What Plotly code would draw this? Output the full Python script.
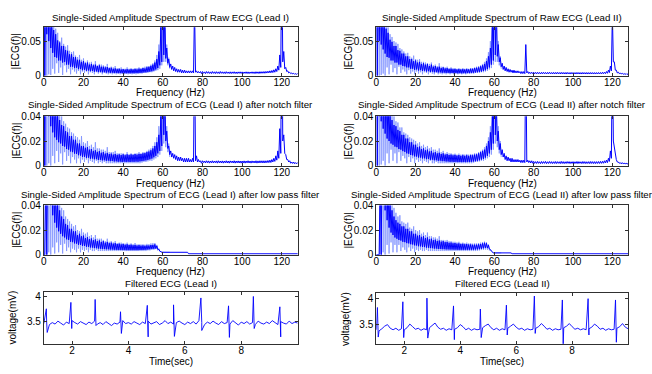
import plotly.graph_objects as go

# ---------------- data ----------------
freq = list(range(0, 129))  # 1 Hz bins, 0..128 Hz

# Dense FFT band per 1 Hz bin: upper edge (hi) / lower edge (lo), 0..128 Hz.
# Sparse noise extremes (up / dn) for 0..63 Hz, drawn lighter underneath.
raw1_hi = [
    0.150, 0.140, 0.120, 0.100, 0.082, 0.066, 0.060, 0.051, 0.048, 0.043,
    0.043, 0.037, 0.036, 0.031, 0.031, 0.027, 0.027, 0.023, 0.023, 0.020,
    0.021, 0.018, 0.019, 0.016, 0.017, 0.015, 0.016, 0.014, 0.015, 0.013,
    0.013, 0.012, 0.0125, 0.011, 0.0115, 0.010, 0.0105, 0.0095, 0.010, 0.009,
    0.0095, 0.0088, 0.0095, 0.0088, 0.0095, 0.009, 0.0098, 0.0092, 0.0102, 0.0098,
    0.011, 0.0105, 0.0122, 0.0128, 0.0142, 0.016, 0.019, 0.024, 0.035, 0.070,
    0.200, 0.090, 0.040, 0.024,
    0.017, 0.014, 0.012, 0.010, 0.009, 0.009,
    0.008, 0.008, 0.007, 0.007, 0.007, 0.007, 0.100, 0.007, 0.006, 0.006,
    0.0060, 0.0055, 0.0060, 0.0058, 0.0055, 0.0060, 0.0056, 0.0058, 0.0055, 0.0060,
    0.0056, 0.0055, 0.0058, 0.0054, 0.0056, 0.0055, 0.0057, 0.0054, 0.0055, 0.0056,
    0.0055, 0.0054, 0.0056, 0.0055, 0.0054, 0.0056, 0.0055, 0.0057, 0.0056, 0.0058,
    0.0058, 0.0060, 0.0062, 0.0065, 0.0070, 0.0075, 0.0085, 0.010, 0.014, 0.030,
    0.200, 0.035, 0.012, 0.007, 0.005, 0.004, 0.0035, 0.003, 0.003,
]
raw1_lo = [
    0.000, 0.060, 0.050, 0.040, 0.033, 0.027, 0.026, 0.022, 0.022, 0.019,
    0.020, 0.016, 0.016, 0.013, 0.013, 0.011, 0.0115, 0.0095, 0.0095, 0.008,
    0.0085, 0.0072, 0.0075, 0.0065, 0.0068, 0.0058, 0.0062, 0.0052, 0.0055, 0.0048,
    0.005, 0.0044, 0.0047, 0.0041, 0.0043, 0.0038, 0.004, 0.0036, 0.0038, 0.0034,
    0.0036, 0.0033, 0.0036, 0.0033, 0.0036, 0.0034, 0.0038, 0.0036, 0.004, 0.0042,
    0.0046, 0.0048, 0.0054, 0.0058, 0.0064, 0.0074, 0.009, 0.011, 0.015, 0.020,
    0.030, 0.025, 0.018, 0.012,
    0.009, 0.007, 0.006, 0.005, 0.005, 0.004,
    0.004, 0.004, 0.004, 0.004, 0.004, 0.004, 0.005, 0.004, 0.004, 0.003,
    0.0035, 0.0030, 0.0035, 0.0032, 0.0030, 0.0034, 0.0030, 0.0033, 0.0030, 0.0034,
    0.0032, 0.0030, 0.0034, 0.0031, 0.0030, 0.0033, 0.0031, 0.0030, 0.0034, 0.0032,
    0.0030, 0.0033, 0.0031, 0.0030, 0.0034, 0.0032, 0.0030, 0.0033, 0.0031, 0.0034,
    0.0035, 0.0035, 0.0038, 0.0040, 0.0042, 0.0045, 0.0050, 0.006, 0.008, 0.012,
    0.020, 0.010, 0.006, 0.004, 0.003, 0.0025, 0.002, 0.002, 0.0015,
]
raw1_up = [
    0.150, 0.150, 0.150, 0.120, 0.100, 0.080, 0.068, 0.062, 0.050, 0.055,
    0.046, 0.042, 0.044, 0.036, 0.034, 0.035, 0.029, 0.027, 0.030, 0.023,
    0.025, 0.020, 0.022, 0.019, 0.020, 0.017, 0.021, 0.015, 0.017, 0.016,
    0.015, 0.014, 0.017, 0.012, 0.013, 0.012, 0.014, 0.011, 0.011, 0.012,
    0.010, 0.010, 0.012, 0.010, 0.011, 0.010, 0.011, 0.011, 0.012, 0.011,
    0.012, 0.013, 0.014, 0.014, 0.016, 0.018, 0.022, 0.030, 0.045, 0.080,
    0.200, 0.100, 0.045, 0.026,
]
raw1_dn = [
    0.000, 0.000, 0.002, 0.001, 0.010, 0.003, 0.018, 0.004, 0.012, 0.001,
    0.015, 0.005, 0.010, 0.002, 0.009, 0.006, 0.003, 0.007, 0.002, 0.006,
    0.004, 0.006, 0.002, 0.005, 0.004, 0.002, 0.005, 0.003, 0.004, 0.002,
    0.004, 0.003, 0.002, 0.003, 0.002, 0.003, 0.002, 0.003, 0.002, 0.003,
    0.002, 0.003, 0.002, 0.003, 0.002, 0.003, 0.002, 0.003, 0.003, 0.003,
    0.004, 0.004, 0.004, 0.005, 0.005, 0.006, 0.007, 0.008, 0.010, 0.015,
    0.020, 0.020, 0.015, 0.010,
]

raw2_hi = [
    0.150, 0.140, 0.120, 0.100, 0.085, 0.068, 0.062, 0.052, 0.049, 0.043,
    0.043, 0.037, 0.036, 0.032, 0.032, 0.028, 0.028, 0.024, 0.024, 0.021,
    0.022, 0.019, 0.020, 0.017, 0.018, 0.016, 0.017, 0.014, 0.016, 0.013,
    0.014, 0.012, 0.013, 0.011, 0.012, 0.0105, 0.011, 0.0098, 0.0102, 0.0094,
    0.0098, 0.009, 0.0096, 0.009, 0.0095, 0.009, 0.0096, 0.0092, 0.010, 0.010,
    0.011, 0.0115, 0.012, 0.0135, 0.015, 0.017, 0.021, 0.028, 0.040, 0.080,
    0.200, 0.100, 0.045, 0.026,
    0.018, 0.014, 0.012, 0.010, 0.009, 0.008,
    0.008, 0.007, 0.007, 0.006, 0.006, 0.006, 0.045, 0.006, 0.005, 0.005,
    0.0050, 0.0048, 0.0050, 0.0047, 0.0049, 0.0050, 0.0047, 0.0048, 0.0050, 0.0046,
    0.0048, 0.0047, 0.0049, 0.0046, 0.0048, 0.0047, 0.0046, 0.0048, 0.0045, 0.0047,
    0.0046, 0.0045, 0.0047, 0.0046, 0.0045, 0.0047, 0.0045, 0.0046, 0.0045, 0.0046,
    0.0045, 0.0045, 0.0045, 0.0046, 0.0046, 0.0050, 0.0050, 0.006, 0.008, 0.014,
    0.090, 0.020, 0.008, 0.005, 0.004, 0.0035, 0.003, 0.003, 0.003,
]
raw2_lo = [
    0.000, 0.050, 0.045, 0.038, 0.032, 0.027, 0.026, 0.022, 0.022, 0.019,
    0.019, 0.016, 0.016, 0.014, 0.0135, 0.012, 0.012, 0.010, 0.010, 0.0085,
    0.009, 0.0075, 0.008, 0.0068, 0.0072, 0.006, 0.0065, 0.0054, 0.0058, 0.005,
    0.0052, 0.0046, 0.0048, 0.0042, 0.0044, 0.004, 0.0041, 0.0037, 0.0039, 0.0035,
    0.0037, 0.0034, 0.0036, 0.0034, 0.0036, 0.0035, 0.0038, 0.0037, 0.004, 0.0042,
    0.0046, 0.005, 0.0054, 0.006, 0.0068, 0.0078, 0.0095, 0.012, 0.016, 0.022,
    0.030, 0.028, 0.020, 0.013,
    0.009, 0.007, 0.006, 0.005, 0.005, 0.004,
    0.004, 0.004, 0.004, 0.003, 0.003, 0.003, 0.004, 0.003, 0.003, 0.003,
    0.0028, 0.0026, 0.0028, 0.0025, 0.0027, 0.0028, 0.0025, 0.0026, 0.0028, 0.0025,
    0.0026, 0.0025, 0.0027, 0.0025, 0.0026, 0.0025, 0.0024, 0.0026, 0.0024, 0.0025,
    0.0025, 0.0024, 0.0025, 0.0024, 0.0024, 0.0025, 0.0024, 0.0024, 0.0024, 0.0025,
    0.0024, 0.0024, 0.0025, 0.0025, 0.0026, 0.0028, 0.0030, 0.0035, 0.0045, 0.007,
    0.020, 0.008, 0.004, 0.003, 0.0025, 0.002, 0.0018, 0.0016, 0.0015,
]
raw2_up = [
    0.150, 0.150, 0.150, 0.120, 0.100, 0.085, 0.070, 0.060, 0.056, 0.050,
    0.048, 0.046, 0.040, 0.038, 0.035, 0.032, 0.033, 0.028, 0.026, 0.029,
    0.024, 0.023, 0.024, 0.020, 0.020, 0.019, 0.018, 0.017, 0.019, 0.015,
    0.016, 0.014, 0.018, 0.013, 0.013, 0.012, 0.013, 0.011, 0.012, 0.011,
    0.011, 0.010, 0.011, 0.010, 0.011, 0.010, 0.011, 0.010, 0.011, 0.011,
    0.012, 0.013, 0.014, 0.015, 0.017, 0.020, 0.025, 0.034, 0.050, 0.090,
    0.200, 0.110, 0.050, 0.028,
]
raw2_dn = [
    0.000, 0.000, 0.001, 0.003, 0.000, 0.012, 0.002, 0.016, 0.005, 0.011,
    0.002, 0.013, 0.004, 0.009, 0.006, 0.002, 0.008, 0.003, 0.006, 0.002,
    0.006, 0.003, 0.005, 0.002, 0.005, 0.004, 0.002, 0.004, 0.003, 0.002,
    0.004, 0.002, 0.003, 0.002, 0.003, 0.002, 0.003, 0.002, 0.003, 0.002,
    0.003, 0.002, 0.003, 0.002, 0.003, 0.002, 0.003, 0.003, 0.003, 0.003,
    0.004, 0.004, 0.004, 0.005, 0.005, 0.006, 0.007, 0.009, 0.011, 0.016,
    0.020, 0.020, 0.015, 0.010,
]

notch1_hi = [
    0.120, 0.110, 0.100, 0.090, 0.075, 0.060, 0.050, 0.042, 0.037, 0.033,
    0.032, 0.028, 0.027, 0.024, 0.024, 0.021, 0.021, 0.018, 0.018, 0.016,
    0.016, 0.0145, 0.015, 0.013, 0.0135, 0.012, 0.0125, 0.0112, 0.0118, 0.0105,
    0.011, 0.0098, 0.0104, 0.0094, 0.0098, 0.009, 0.0095, 0.0088, 0.0092, 0.0086,
    0.0092, 0.0085, 0.0092, 0.0086, 0.0092, 0.0088, 0.0094, 0.009, 0.0096, 0.0095,
    0.010, 0.0102, 0.011, 0.0115, 0.0125, 0.014, 0.016, 0.019, 0.025, 0.040,
    0.150, 0.060, 0.028, 0.016,
    0.012, 0.010, 0.009, 0.008, 0.007, 0.007,
    0.006, 0.006, 0.006, 0.006, 0.005, 0.006, 0.100, 0.008, 0.005, 0.004,
    0.0040, 0.0038, 0.0040, 0.0039, 0.0038, 0.0040, 0.0038, 0.0039, 0.0040, 0.0038,
    0.0039, 0.0038, 0.0040, 0.0038, 0.0039, 0.0038, 0.0040, 0.0038, 0.0039, 0.0038,
    0.0038, 0.0039, 0.0038, 0.0040, 0.0038, 0.0039, 0.0038, 0.0040, 0.0039, 0.0040,
    0.0040, 0.0040, 0.0040, 0.0042, 0.0045, 0.0050, 0.006, 0.008, 0.012, 0.030,
    0.150, 0.025, 0.009, 0.005, 0.004, 0.003, 0.003, 0.0025, 0.0025,
]
notch1_lo = [
    0.000, 0.045, 0.040, 0.032, 0.027, 0.023, 0.021, 0.019, 0.018, 0.016,
    0.0155, 0.0135, 0.013, 0.0115, 0.011, 0.0098, 0.0095, 0.0085, 0.0082, 0.0072,
    0.0072, 0.0064, 0.0065, 0.0057, 0.0058, 0.0052, 0.0053, 0.0047, 0.0048, 0.0043,
    0.0044, 0.004, 0.0041, 0.0037, 0.0038, 0.0034, 0.0035, 0.0032, 0.0033, 0.003,
    0.0032, 0.003, 0.0032, 0.003, 0.0032, 0.0031, 0.0033, 0.0032, 0.0035, 0.0037,
    0.004, 0.0043, 0.0047, 0.0052, 0.0058, 0.0068, 0.008, 0.010, 0.012, 0.016,
    0.025, 0.020, 0.014, 0.009,
    0.007, 0.006, 0.005, 0.004, 0.004, 0.004,
    0.003, 0.003, 0.003, 0.003, 0.003, 0.003, 0.004, 0.003, 0.003, 0.002,
    0.0025, 0.0022, 0.0024, 0.0021, 0.0023, 0.0022, 0.0024, 0.0021, 0.0023, 0.0022,
    0.0021, 0.0023, 0.0022, 0.0021, 0.0024, 0.0022, 0.0021, 0.0023, 0.0022, 0.0021,
    0.0022, 0.0021, 0.0023, 0.0022, 0.0021, 0.0023, 0.0022, 0.0021, 0.0022, 0.0023,
    0.0022, 0.0022, 0.0024, 0.0025, 0.0026, 0.0030, 0.0035, 0.0045, 0.006, 0.010,
    0.020, 0.010, 0.005, 0.003, 0.002, 0.0018, 0.0016, 0.0015, 0.0015,
]
notch1_up = [
    0.120, 0.120, 0.110, 0.100, 0.090, 0.070, 0.058, 0.050, 0.044, 0.040,
    0.036, 0.034, 0.031, 0.030, 0.027, 0.026, 0.024, 0.023, 0.021, 0.024,
    0.019, 0.018, 0.020, 0.016, 0.017, 0.015, 0.019, 0.014, 0.014, 0.013,
    0.013, 0.012, 0.015, 0.011, 0.011, 0.011, 0.012, 0.010, 0.010, 0.010,
    0.010, 0.0095, 0.011, 0.0095, 0.010, 0.0095, 0.010, 0.010, 0.011, 0.010,
    0.011, 0.011, 0.012, 0.013, 0.014, 0.016, 0.019, 0.023, 0.032, 0.045,
    0.150, 0.070, 0.032, 0.018,
]
notch1_dn = [
    0.000, 0.000, 0.002, 0.000, 0.008, 0.002, 0.012, 0.003, 0.010, 0.001,
    0.011, 0.004, 0.008, 0.002, 0.007, 0.005, 0.002, 0.006, 0.002, 0.005,
    0.003, 0.005, 0.002, 0.004, 0.003, 0.002, 0.004, 0.002, 0.003, 0.002,
    0.003, 0.002, 0.002, 0.002, 0.002, 0.002, 0.002, 0.002, 0.002, 0.002,
    0.002, 0.002, 0.002, 0.002, 0.002, 0.002, 0.002, 0.002, 0.002, 0.0025,
    0.003, 0.003, 0.0035, 0.004, 0.004, 0.005, 0.006, 0.007, 0.009, 0.012,
    0.018, 0.015, 0.011, 0.007,
]

notch2_hi = [
    0.120, 0.110, 0.100, 0.090, 0.080, 0.065, 0.052, 0.043, 0.037, 0.033,
    0.032, 0.029, 0.028, 0.025, 0.025, 0.022, 0.022, 0.019, 0.019, 0.017,
    0.017, 0.015, 0.0155, 0.0135, 0.014, 0.0125, 0.013, 0.0115, 0.012, 0.0105,
    0.011, 0.010, 0.0105, 0.0095, 0.010, 0.009, 0.0094, 0.0087, 0.009, 0.0084,
    0.0088, 0.0082, 0.0086, 0.008, 0.0085, 0.008, 0.0085, 0.008, 0.0086, 0.0085,
    0.009, 0.0092, 0.010, 0.011, 0.012, 0.013, 0.016, 0.020, 0.027, 0.040,
    0.150, 0.050, 0.028, 0.018,
    0.013, 0.010, 0.008, 0.007, 0.006, 0.006,
    0.005, 0.005, 0.005, 0.0045, 0.0045, 0.0045, 0.100, 0.0045, 0.004, 0.004,
    0.0035, 0.0033, 0.0035, 0.0032, 0.0034, 0.0033, 0.0035, 0.0032, 0.0034, 0.0033,
    0.0032, 0.0034, 0.0033, 0.0032, 0.0035, 0.0033, 0.0032, 0.0034, 0.0033, 0.0032,
    0.0033, 0.0032, 0.0034, 0.0033, 0.0032, 0.0034, 0.0033, 0.0032, 0.0033, 0.0034,
    0.0033, 0.0033, 0.0033, 0.0034, 0.0035, 0.0036, 0.0040, 0.0045, 0.006, 0.012,
    0.100, 0.015, 0.005, 0.003, 0.0025, 0.0025, 0.0022, 0.002, 0.002,
]
notch2_lo = [
    0.000, 0.040, 0.036, 0.030, 0.026, 0.022, 0.020, 0.018, 0.017, 0.0155,
    0.015, 0.0135, 0.013, 0.0118, 0.0112, 0.010, 0.0097, 0.0087, 0.0084, 0.0075,
    0.0074, 0.0066, 0.0066, 0.0059, 0.006, 0.0053, 0.0054, 0.0048, 0.0049, 0.0044,
    0.0044, 0.004, 0.0041, 0.0037, 0.0037, 0.0034, 0.0034, 0.0031, 0.0032, 0.003,
    0.0031, 0.0029, 0.003, 0.0029, 0.003, 0.0029, 0.0031, 0.003, 0.0032, 0.0034,
    0.0036, 0.004, 0.0044, 0.005, 0.0056, 0.0066, 0.008, 0.010, 0.013, 0.018,
    0.025, 0.020, 0.013, 0.009,
    0.007, 0.005, 0.004, 0.004, 0.003, 0.003,
    0.003, 0.003, 0.003, 0.0025, 0.0025, 0.0025, 0.003, 0.0025, 0.0022, 0.002,
    0.0019, 0.0018, 0.0019, 0.0017, 0.0018, 0.0019, 0.0017, 0.0018, 0.0019, 0.0017,
    0.0018, 0.0017, 0.0019, 0.0017, 0.0018, 0.0017, 0.0018, 0.0019, 0.0017, 0.0018,
    0.0017, 0.0018, 0.0017, 0.0019, 0.0017, 0.0018, 0.0017, 0.0018, 0.0017, 0.0018,
    0.0017, 0.0017, 0.0018, 0.0018, 0.0019, 0.0020, 0.0022, 0.0025, 0.0035, 0.006,
    0.020, 0.007, 0.003, 0.002, 0.0015, 0.0015, 0.0014, 0.0013, 0.0013,
]
notch2_up = [
    0.120, 0.120, 0.110, 0.100, 0.090, 0.075, 0.060, 0.048, 0.042, 0.040,
    0.036, 0.035, 0.031, 0.031, 0.027, 0.026, 0.025, 0.023, 0.022, 0.021,
    0.020, 0.018, 0.019, 0.016, 0.017, 0.015, 0.016, 0.014, 0.015, 0.013,
    0.013, 0.012, 0.014, 0.011, 0.012, 0.010, 0.011, 0.010, 0.010, 0.0095,
    0.0098, 0.009, 0.0098, 0.009, 0.0095, 0.009, 0.0095, 0.009, 0.0095, 0.0095,
    0.010, 0.010, 0.011, 0.012, 0.013, 0.015, 0.018, 0.023, 0.032, 0.045,
    0.150, 0.060, 0.032, 0.020,
]
notch2_dn = [
    0.000, 0.000, 0.001, 0.004, 0.000, 0.010, 0.002, 0.013, 0.004, 0.010,
    0.002, 0.011, 0.004, 0.008, 0.006, 0.002, 0.007, 0.003, 0.006, 0.002,
    0.005, 0.003, 0.004, 0.002, 0.004, 0.003, 0.002, 0.004, 0.002, 0.002,
    0.003, 0.002, 0.002, 0.002, 0.002, 0.002, 0.002, 0.002, 0.002, 0.002,
    0.002, 0.002, 0.002, 0.002, 0.002, 0.002, 0.002, 0.002, 0.002, 0.0025,
    0.003, 0.003, 0.0035, 0.004, 0.004, 0.005, 0.006, 0.007, 0.009, 0.013,
    0.018, 0.015, 0.010, 0.007,
]

low1_hi = [
    0.000, 0.070, 0.090, 0.085, 0.075, 0.062, 0.050, 0.042, 0.036, 0.031,
    0.029, 0.025, 0.024, 0.021, 0.021, 0.019, 0.019, 0.016, 0.017, 0.015,
    0.0155, 0.0135, 0.0142, 0.0126, 0.0132, 0.0118, 0.0124, 0.011, 0.0116, 0.0104,
    0.011, 0.0098, 0.0104, 0.0094, 0.0098, 0.009, 0.0094, 0.0087, 0.009, 0.0084,
    0.0087, 0.0081, 0.0085, 0.0079, 0.0082, 0.0077, 0.008, 0.0075, 0.0078, 0.0074,
    0.0076, 0.0073, 0.0076, 0.0075, 0.0079, 0.008, 0.0084, 0.0072, 0.0045, 0.0024,
    0.002, 0.002, 0.002, 0.002,
    0.002, 0.002, 0.002, 0.002, 0.002, 0.002,
    0.002, 0.002, 0.002, 0.0008, 0.0008, 0.0008, 0.0008, 0.0008, 0.0008, 0.0008,
    0.0008, 0.0008, 0.0008, 0.0008, 0.0008, 0.0008, 0.0008, 0.0008, 0.0008, 0.0008,
    0.0008, 0.0008, 0.0008, 0.0008, 0.0008, 0.0008, 0.0008, 0.0008, 0.0008, 0.0008,
    0.0008, 0.0008, 0.0008, 0.0008, 0.0008, 0.0008, 0.0008, 0.0008, 0.0008, 0.0008,
    0.0008, 0.0008, 0.0008, 0.0008, 0.0008, 0.0008, 0.0008, 0.0008, 0.0008, 0.0008,
    0.0008, 0.0008, 0.0008, 0.0008, 0.0008, 0.0008, 0.0008, 0.0008, 0.0008,
]
low1_lo = [
    0.000, 0.000, 0.050, 0.040, 0.032, 0.026, 0.022, 0.019, 0.017, 0.015,
    0.014, 0.0125, 0.012, 0.0105, 0.0102, 0.0092, 0.009, 0.0081, 0.008, 0.0072,
    0.0071, 0.0065, 0.0064, 0.0059, 0.0058, 0.0054, 0.0053, 0.005, 0.0049, 0.0046,
    0.0046, 0.0044, 0.0044, 0.0042, 0.0042, 0.004, 0.004, 0.0039, 0.0039, 0.0038,
    0.0038, 0.0037, 0.0037, 0.0037, 0.0037, 0.0037, 0.0037, 0.0037, 0.0038, 0.0038,
    0.0039, 0.004, 0.0042, 0.0044, 0.0046, 0.0048, 0.005, 0.0042, 0.003, 0.002,
    0.002, 0.002, 0.002, 0.002,
    0.002, 0.002, 0.002, 0.002, 0.002, 0.002,
    0.002, 0.002, 0.002, 0.0008, 0.0008, 0.0008, 0.0008, 0.0008, 0.0008, 0.0008,
    0.0008, 0.0008, 0.0008, 0.0008, 0.0008, 0.0008, 0.0008, 0.0008, 0.0008, 0.0008,
    0.0008, 0.0008, 0.0008, 0.0008, 0.0008, 0.0008, 0.0008, 0.0008, 0.0008, 0.0008,
    0.0008, 0.0008, 0.0008, 0.0008, 0.0008, 0.0008, 0.0008, 0.0008, 0.0008, 0.0008,
    0.0008, 0.0008, 0.0008, 0.0008, 0.0008, 0.0008, 0.0008, 0.0008, 0.0008, 0.0008,
    0.0008, 0.0008, 0.0008, 0.0008, 0.0008, 0.0008, 0.0008, 0.0008, 0.0008,
]
low1_up = [
    0.000, 0.080, 0.100, 0.100, 0.090, 0.075, 0.060, 0.050, 0.045, 0.038,
    0.036, 0.031, 0.029, 0.027, 0.025, 0.023, 0.024, 0.020, 0.019, 0.021,
    0.018, 0.017, 0.018, 0.015, 0.016, 0.014, 0.016, 0.013, 0.013, 0.013,
    0.012, 0.011, 0.013, 0.0105, 0.011, 0.010, 0.011, 0.0095, 0.0098, 0.0098,
    0.0095, 0.009, 0.0098, 0.0088, 0.0092, 0.0086, 0.0095, 0.0084, 0.0086, 0.0084,
    0.0085, 0.0082, 0.0088, 0.0086, 0.0092, 0.0094, 0.0095, 0.008, 0.005, 0.0026,
    0.002, 0.002, 0.002, 0.002,
]
low1_dn = [
    0.000, 0.000, 0.002, 0.000, 0.006, 0.001, 0.010, 0.002, 0.008, 0.001,
    0.009, 0.003, 0.006, 0.002, 0.005, 0.004, 0.002, 0.005, 0.002, 0.004,
    0.003, 0.004, 0.002, 0.004, 0.003, 0.003, 0.004, 0.003, 0.003, 0.003,
    0.003, 0.003, 0.003, 0.003, 0.003, 0.003, 0.003, 0.003, 0.003, 0.003,
    0.003, 0.003, 0.003, 0.003, 0.003, 0.003, 0.003, 0.003, 0.003, 0.003,
    0.003, 0.003, 0.0035, 0.0035, 0.004, 0.004, 0.0045, 0.0035, 0.0025, 0.002,
    0.002, 0.002, 0.002, 0.002,
]

low2_hi = [
    0.000, 0.000, 0.070, 0.090, 0.085, 0.070, 0.055, 0.044, 0.036, 0.031,
    0.028, 0.026, 0.025, 0.023, 0.023, 0.021, 0.021, 0.019, 0.019, 0.017,
    0.017, 0.0155, 0.016, 0.0145, 0.015, 0.0135, 0.014, 0.0125, 0.013, 0.0118,
    0.0122, 0.0112, 0.0115, 0.0106, 0.011, 0.0102, 0.0104, 0.0097, 0.0099, 0.0093,
    0.0095, 0.009, 0.0092, 0.0087, 0.0089, 0.0085, 0.0087, 0.0083, 0.0084, 0.0081,
    0.0082, 0.0082, 0.0085, 0.0087, 0.0092, 0.0097, 0.0093, 0.0078, 0.0042, 0.002,
    0.0015, 0.0015, 0.0015, 0.0015,
    0.0015, 0.0015, 0.0015, 0.0015, 0.0015, 0.0008,
    0.0008, 0.0008, 0.0008, 0.0008, 0.0008, 0.0008, 0.0008, 0.0008, 0.0008, 0.0008,
    0.0008, 0.0008, 0.0008, 0.0008, 0.0008, 0.0008, 0.0008, 0.0008, 0.0008, 0.0008,
    0.0008, 0.0008, 0.0008, 0.0008, 0.0008, 0.0008, 0.0008, 0.0008, 0.0008, 0.0008,
    0.0008, 0.0008, 0.0008, 0.0008, 0.0008, 0.0008, 0.0008, 0.0008, 0.0008, 0.0008,
    0.0008, 0.0008, 0.0008, 0.0008, 0.0008, 0.0008, 0.0008, 0.0008, 0.0008, 0.0008,
    0.0008, 0.0008, 0.0008, 0.0008, 0.0008, 0.0008, 0.0008, 0.0008, 0.0008,
]
low2_lo = [
    0.000, 0.000, 0.000, 0.045, 0.036, 0.028, 0.022, 0.018, 0.016, 0.014,
    0.013, 0.012, 0.0115, 0.0105, 0.0102, 0.0094, 0.0092, 0.0085, 0.0083, 0.0076,
    0.0075, 0.0069, 0.0068, 0.0063, 0.0062, 0.0058, 0.0057, 0.0054, 0.0053, 0.005,
    0.005, 0.0047, 0.0047, 0.0045, 0.0045, 0.0043, 0.0043, 0.0042, 0.0042, 0.0041,
    0.0041, 0.004, 0.004, 0.004, 0.004, 0.004, 0.004, 0.004, 0.004, 0.0041,
    0.0042, 0.0043, 0.0045, 0.0048, 0.0052, 0.0056, 0.0054, 0.0046, 0.003, 0.0015,
    0.0015, 0.0015, 0.0015, 0.0015,
    0.0015, 0.0015, 0.0015, 0.0015, 0.0015, 0.0008,
    0.0008, 0.0008, 0.0008, 0.0008, 0.0008, 0.0008, 0.0008, 0.0008, 0.0008, 0.0008,
    0.0008, 0.0008, 0.0008, 0.0008, 0.0008, 0.0008, 0.0008, 0.0008, 0.0008, 0.0008,
    0.0008, 0.0008, 0.0008, 0.0008, 0.0008, 0.0008, 0.0008, 0.0008, 0.0008, 0.0008,
    0.0008, 0.0008, 0.0008, 0.0008, 0.0008, 0.0008, 0.0008, 0.0008, 0.0008, 0.0008,
    0.0008, 0.0008, 0.0008, 0.0008, 0.0008, 0.0008, 0.0008, 0.0008, 0.0008, 0.0008,
    0.0008, 0.0008, 0.0008, 0.0008, 0.0008, 0.0008, 0.0008, 0.0008, 0.0008,
]
low2_up = [
    0.000, 0.000, 0.080, 0.100, 0.100, 0.085, 0.065, 0.052, 0.044, 0.038,
    0.034, 0.031, 0.032, 0.027, 0.026, 0.025, 0.026, 0.022, 0.021, 0.023,
    0.020, 0.019, 0.020, 0.017, 0.018, 0.016, 0.018, 0.015, 0.015, 0.014,
    0.014, 0.013, 0.015, 0.012, 0.012, 0.0115, 0.012, 0.011, 0.011, 0.0105,
    0.0105, 0.010, 0.0105, 0.0096, 0.0098, 0.0094, 0.0098, 0.0092, 0.0093, 0.009,
    0.0092, 0.0092, 0.0095, 0.0098, 0.0102, 0.0106, 0.0102, 0.0085, 0.0046, 0.0022,
    0.0015, 0.0015, 0.0015, 0.0015,
]
low2_dn = [
    0.000, 0.000, 0.000, 0.002, 0.000, 0.008, 0.001, 0.010, 0.002, 0.008,
    0.002, 0.008, 0.003, 0.006, 0.004, 0.002, 0.006, 0.003, 0.005, 0.002,
    0.004, 0.003, 0.004, 0.003, 0.003, 0.004, 0.003, 0.003, 0.003, 0.003,
    0.003, 0.003, 0.003, 0.003, 0.003, 0.003, 0.003, 0.003, 0.003, 0.003,
    0.003, 0.003, 0.003, 0.003, 0.003, 0.003, 0.003, 0.003, 0.003, 0.003,
    0.003, 0.0032, 0.0035, 0.0038, 0.004, 0.0042, 0.004, 0.0035, 0.0025, 0.0015,
    0.0015, 0.0015, 0.0015, 0.0015,
]

# time-domain ECG: baseline samples every 0.1 s from 1.0 to 10.0 s
ecg_time = [round(1.0 + 0.1 * i, 1) for i in range(91)]
ecg1_base = [
    3.46, 3.50, 3.44, 3.48, 3.45, 3.51, 3.47, 3.43, 3.49, 3.46,
    3.52, 3.48, 3.45, 3.50, 3.47, 3.44, 3.49, 3.46, 3.51, 3.45,
    3.48, 3.44, 3.50, 3.46, 3.42, 3.47, 3.45, 3.49, 3.52, 3.46,
    3.48, 3.45, 3.50, 3.47, 3.44, 3.49, 3.46, 3.51, 3.45, 3.48,
    3.50, 3.44, 3.47, 3.52, 3.46, 3.49, 3.45, 3.48, 3.51, 3.47,
    3.44, 3.49, 3.46, 3.50, 3.45, 3.52, 3.48, 3.44, 3.49, 3.46,
    3.51, 3.47, 3.44, 3.50, 3.46, 3.48, 3.45, 3.52, 3.47, 3.43,
    3.49, 3.46, 3.50, 3.45, 3.48, 3.44, 3.51, 3.47, 3.45, 3.49,
    3.46, 3.52, 3.48, 3.44, 3.50, 3.47, 3.45, 3.51, 3.46, 3.49,
    3.47,
]
ecg2_base = [
    3.40, 3.38, 3.42, 3.47, 3.50, 3.43, 3.40, 3.43, 3.39, 3.42,
    3.40, 3.44, 3.51, 3.46, 3.41, 3.43, 3.39, 3.42, 3.40, 3.44,
    3.49, 3.53, 3.45, 3.41, 3.43, 3.39, 3.42, 3.40, 3.41, 3.44,
    3.50, 3.46, 3.40, 3.43, 3.39, 3.42, 3.40, 3.41, 3.44, 3.48,
    3.51, 3.44, 3.40, 3.43, 3.39, 3.42, 3.40, 3.43, 3.47, 3.51,
    3.45, 3.41, 3.43, 3.39, 3.42, 3.40, 3.41, 3.43, 3.46, 3.52,
    3.47, 3.41, 3.43, 3.39, 3.42, 3.40, 3.41, 3.44, 3.47, 3.52,
    3.46, 3.41, 3.43, 3.40, 3.42, 3.40, 3.42, 3.45, 3.51, 3.47,
    3.41, 3.43, 3.39, 3.42, 3.40, 3.41, 3.43, 3.46, 3.52, 3.45,
    3.42,
]
# QRS complexes: beat time (s), R peak (mV), S trough (mV)
beats1_t = [1.09, 1.96, 2.82, 3.72, 4.67, 5.60, 6.57, 7.55, 8.43, 9.37]
beats1_r = [3.76, 3.89, 3.95, 3.70, 3.83, 3.84, 3.98, 3.82, 4.01, 3.80]
beats1_s = [3.28, 3.36, 3.42, 3.26, 3.19, 3.20, 3.32, 3.18, 3.36, 3.19]
beats2_t = [1.04, 1.95, 2.81, 3.76, 4.72, 5.65, 6.65, 7.65, 8.57, 9.55]
beats2_r = [3.83, 3.94, 4.01, 3.86, 3.80, 3.875, 4.05, 3.975, 4.00, 3.975]
beats2_s = [3.26, 3.25, 3.24, 3.21, 3.25, 3.30, 3.33, 3.125, 3.30, 3.16]

titles = [
    "Single-Sided Amplitude Spectrum of Raw ECG (Lead I)",
    "Single-Sided Amplitude Spectrum of Raw ECG (Lead II)",
    "Single-Sided Amplitude Spectrum of ECG (Lead I) after notch filter",
    "Single-Sided Amplitude Spectrum of ECG (Lead II) after notch filter",
    "Single-Sided Amplitude Spectrum of ECG (Lead I) after low pass filter",
    "Single-Sided Amplitude Spectrum of ECG (Lead II) after low pass filter",
    "Filtered ECG (Lead I)",
    "Filtered ECG (Lead II)",
]

spectra = [
    (raw1_hi, raw1_lo, raw1_up, raw1_dn), (raw2_hi, raw2_lo, raw2_up, raw2_dn),
    (notch1_hi, notch1_lo, notch1_up, notch1_dn), (notch2_hi, notch2_lo, notch2_up, notch2_dn),
    (low1_hi, low1_lo, low1_up, low1_dn), (low2_hi, low2_lo, low2_up, low2_dn),
]
for s in spectra:
    assert len(s[0]) == 129 and len(s[1]) == 129 and len(s[2]) == 64 and len(s[3]) == 64


def zigzag(top, bottom):
    """Alternate the per-bin top and bottom values into one dense FFT-like trace."""
    xs, ys = [], []
    for f, h, l in zip(freq, top, bottom):
        xs += [f, f + 0.5]
        ys += [h, l]
    return xs, ys


def merge_ecg(base, bt, br, bs):
    pts = list(zip(ecg_time, base))
    for t, r, s in zip(bt, br, bs):
        pts.append((t, r))
        pts.append((t + 0.03, s))
    pts.sort()
    return [p[0] for p in pts], [p[1] for p in pts]


ecgs = [merge_ecg(ecg1_base, beats1_t, beats1_r, beats1_s),
        merge_ecg(ecg2_base, beats2_t, beats2_r, beats2_s)]

W, H = 652, 374
FONT = "Liberation Sans, Arial, Helvetica, sans-serif"
BLUE = "#0000ff"
LIGHT = "rgb(125,145,255)"

cols = [(41, 296), (375, 628)]
rows = [[(22, 72), (22, 72)], [(114, 165), (114, 165)],
        [(206, 257), (206, 257)], [(295, 349), (297, 349)]]
title_y = [12, 102, 195, 287]      # title centre, px from top
xlabel_y = [89.5, 183, 274.5, 367]  # x-axis label centre, px from top

yranges = [[0, 0.07], [0, 0.07], [0, 0.04], [0, 0.04], [0, 0.04], [0, 0.04],
           [3.05, 4.11], [3.13, 4.1]]
yticks = [[0, 0.05], [0, 0.05], [0, 0.02, 0.04], [0, 0.02, 0.04],
          [0, 0.02, 0.04], [0, 0.02, 0.04], [3.5, 4], [3.5, 4]]

fig = go.Figure()
annotations = []
layout = {}
for i in range(8):
    r, c = divmod(i, 2)
    x0, x1 = cols[c]
    y0, y1 = rows[r][c]
    n = "" if i == 0 else str(i + 1)
    ax = dict(xaxis="x" + n, yaxis="y" + n, showlegend=False, hoverinfo="skip",
              mode="lines")
    if r < 3:
        hi, lo, up, dn = spectra[i]
        lx, ly = zigzag(up, dn)
        fig.add_trace(go.Scatter(x=lx, y=ly, line=dict(color=LIGHT, width=0.8), **ax))
        dx, dy = zigzag(hi, lo)
        fig.add_trace(go.Scatter(x=dx, y=dy, line=dict(color=BLUE, width=1), **ax))
        xr, xt = [0, 128], [0, 20, 40, 60, 80, 100, 120]
        xlab, ylab, yoff = "Frequency (Hz)", "|ECG(f)|", 28
    else:
        ex, ey = ecgs[c]
        fig.add_trace(go.Scatter(x=ex, y=ey, line=dict(color=BLUE, width=0.9), **ax))
        xr, xt = [1, 10], [2, 4, 6, 8]
        xlab, ylab, yoff = "Time(sec)", "voltage(mV)", 31
    common = dict(showline=True, linecolor="#303030", linewidth=1, mirror="allticks",
                  ticks="inside", ticklen=3, tickcolor="#303030", showgrid=False,
                  zeroline=False, tickfont=dict(family=FONT, size=10, color="black"))
    layout["xaxis" + n] = dict(domain=[x0 / W, x1 / W], range=xr, tickvals=xt,
                               anchor="y" + n, ticklabelstandoff=-3, **common)
    layout["yaxis" + n] = dict(domain=[1 - y1 / H, 1 - y0 / H], range=yranges[i],
                               tickvals=yticks[i], anchor="x" + n, **common)
    cx = (x0 + x1) / 2 / W
    annotations.append(dict(text=titles[i], x=cx, y=1 - title_y[r] / H, xref="paper",
                            yref="paper", showarrow=False, xanchor="center",
                            yanchor="middle", font=dict(family=FONT, size=9.7, color="black")))
    annotations.append(dict(text=xlab, x=cx, y=1 - xlabel_y[r] / H, xref="paper",
                            yref="paper", showarrow=False, xanchor="center",
                            yanchor="middle", font=dict(family=FONT, size=10, color="black")))
    annotations.append(dict(text=ylab, x=(x0 - yoff) / W, y=1 - (y0 + y1) / 2 / H,
                            xref="paper", yref="paper", showarrow=False, textangle=-90,
                            xanchor="center", yanchor="middle",
                            font=dict(family=FONT, size=10, color="black")))

fig.update_layout(width=W, height=H, margin=dict(l=0, r=0, t=0, b=0),
                  paper_bgcolor="white", plot_bgcolor="white",
                  annotations=annotations, **layout)
fig.write_html("out.html", config={"displayModeBar": False},
               post_script="document.body.style.margin='0px';"
                           "document.body.style.overflow='hidden';")
